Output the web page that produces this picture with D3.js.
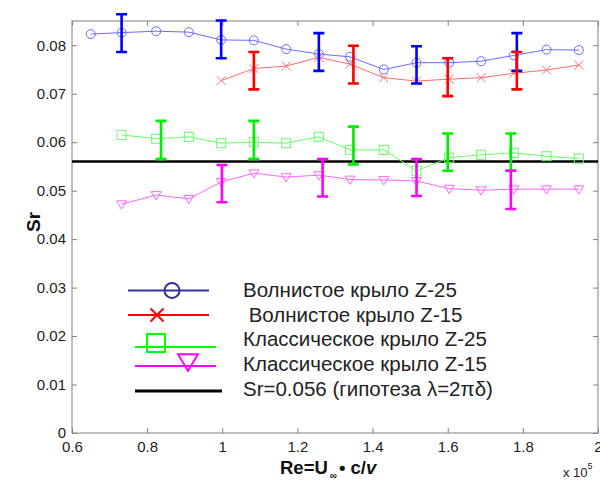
<!DOCTYPE html>
<html><head><meta charset="utf-8">
<script src="https://cdn.jsdelivr.net/npm/d3@7"></script>
<style>body{margin:0;background:#fff}svg{display:block}text{font-family:Arial,"Liberation Sans",sans-serif}</style>
</head><body><svg id="c" width="600" height="480"></svg>
<script>
// ---- data ----
const xTicks = [0.6, 0.8, 1.0, 1.2, 1.4, 1.6, 1.8, 2.0];
const xTickLabels = ["0.6","0.8","1","1.2","1.4","1.6","1.8","2"];
const yTicks = [0, 0.01, 0.02, 0.03, 0.04, 0.05, 0.06, 0.07, 0.08];
const yTickLabels = ["0","0.01","0.02","0.03","0.04","0.05","0.06","0.07","0.08"];

const blueX = [0.65, 0.732, 0.824, 0.911, 0.997, 1.084, 1.17, 1.257, 1.34, 1.43, 1.517, 1.604, 1.689, 1.776, 1.863, 1.949];
const blueY = [0.0823, 0.0826, 0.0829, 0.0827, 0.0811, 0.0810, 0.0792, 0.0782, 0.0776, 0.0750, 0.0764, 0.0764, 0.0767, 0.0779, 0.0791, 0.0790];
const blueErrX = [0.732, 0.997, 1.257, 1.517, 1.784];
const blueErrLow = [0.0786, 0.0773, 0.0747, 0.0721, 0.0747];
const blueErrHigh = [0.0864, 0.0851, 0.0825, 0.0798, 0.0825];

const redX = [0.997, 1.084, 1.17, 1.257, 1.34, 1.43, 1.517, 1.604, 1.689, 1.776, 1.863, 1.949];
const redY = [0.0727, 0.0752, 0.0757, 0.0775, 0.0761, 0.0733, 0.0726, 0.0730, 0.0733, 0.0742, 0.0749, 0.0759];
const redErrX = [1.084, 1.349, 1.600, 1.784];
const redErrLow = [0.0709, 0.0721, 0.0695, 0.0709];
const redErrHigh = [0.0786, 0.0799, 0.0773, 0.0786];

const greenX = [0.732, 0.824, 0.911, 0.997, 1.084, 1.17, 1.257, 1.34, 1.43, 1.517, 1.604, 1.689, 1.776, 1.863, 1.949];
const greenY = [0.0615, 0.0607, 0.0611, 0.0598, 0.0600, 0.0598, 0.0611, 0.0584, 0.0584, 0.0541, 0.0568, 0.0574, 0.0578, 0.0571, 0.0566];
const greenErrX = [0.837, 1.084, 1.349, 1.600, 1.768];
const greenErrLow = [0.0565, 0.0565, 0.0554, 0.0541, 0.0541];
const greenErrHigh = [0.0644, 0.0644, 0.0632, 0.0618, 0.0618];

const magX = [0.732, 0.824, 0.911, 0.997, 1.084, 1.17, 1.257, 1.34, 1.43, 1.517, 1.604, 1.689, 1.776, 1.863, 1.949];
const magY = [0.0472, 0.0491, 0.0483, 0.0518, 0.0536, 0.0528, 0.0532, 0.0523, 0.0522, 0.0520, 0.0504, 0.0501, 0.0503, 0.0503, 0.0503];
const magErrX = [0.999, 1.267, 1.517, 1.768];
const magErrLow = [0.0476, 0.0488, 0.0489, 0.0462];
const magErrHigh = [0.0553, 0.0565, 0.0565, 0.0541];

const hypothesis = 0.056;
const legendLabels = ["Волнистое крыло Z-25", " Волнистое крыло Z-15", "Классическое крыло Z-25", "Классическое крыло Z-15", "Sr=0.056 (гипотеза λ=2πδ)"];

// ---- layout ----
const L = 72, T = 21, R = 598, B = 433;
const svg = d3.select("#c");
const x = d3.scaleLinear().domain([0.6, 2.0]).range([L, R]);
const y = d3.scaleLinear().domain([0, 0.085]).range([B, T]);

// box
svg.append("rect").attr("x", L).attr("y", T).attr("width", R - L).attr("height", B - T)
  .attr("fill", "none").attr("stroke", "#808080").attr("stroke-width", 1);

// axes (ticks inward)
const axStyle = g => { g.select(".domain").remove(); g.selectAll("line").attr("stroke", "#808080");
  g.selectAll("text").attr("fill", "#222").style("font-size", "15px").style("font-family", "Arial, 'Liberation Sans', sans-serif"); };
svg.append("g").attr("transform", `translate(0,${B})`)
  .call(d3.axisBottom(x).tickValues(xTicks).tickSize(-5).tickPadding(8).tickFormat((d, i) => xTickLabels[i]))
  .call(axStyle);
svg.append("g").attr("transform", `translate(0,${T})`)
  .call(d3.axisTop(x).tickValues(xTicks).tickSize(-5).tickFormat(""))
  .call(axStyle);
svg.append("g").attr("transform", `translate(${L},0)`)
  .call(d3.axisLeft(y).tickValues(yTicks).tickSize(-5).tickPadding(6).tickFormat((d, i) => yTickLabels[i]))
  .call(axStyle);
svg.append("g").attr("transform", `translate(${R},0)`)
  .call(d3.axisRight(y).tickValues(yTicks).tickSize(-5).tickFormat(""))
  .call(axStyle);

// series
const line = d3.line().x(d => x(d[0])).y(d => y(d[1]));
function series(xs, ys, color, marker) {
  const pts = xs.map((v, i) => [v, ys[i]]);
  svg.append("path").attr("d", line(pts)).attr("fill", "none").attr("stroke", color).attr("stroke-width", 1);
  const g = svg.append("g");
  pts.forEach(p => drawMarker(g, x(p[0]), y(p[1]), marker, color, 4.5, 1));
}
function drawMarker(g, cx, cy, m, color, s, sw) {
  if (m === "o") g.append("circle").attr("cx", cx).attr("cy", cy).attr("r", s).attr("fill", "none").attr("stroke", color).attr("stroke-width", sw);
  else if (m === "x") g.append("path").attr("d", `M${cx - s},${cy - s}L${cx + s},${cy + s}M${cx - s},${cy + s}L${cx + s},${cy - s}`).attr("stroke", color).attr("stroke-width", sw).attr("fill", "none");
  else if (m === "s") g.append("rect").attr("x", cx - s).attr("y", cy - s).attr("width", 2 * s).attr("height", 2 * s).attr("fill", "none").attr("stroke", color).attr("stroke-width", sw);
  else if (m === "v") g.append("path").attr("d", `M${cx - s * 1.1},${cy - s * 0.75}L${cx + s * 1.1},${cy - s * 0.75}L${cx},${cy + s * 1.1}Z`).attr("fill", "none").attr("stroke", color).attr("stroke-width", sw);
}
function errs(xs, lo, hi, color) {
  const g = svg.append("g").attr("stroke", color).attr("stroke-width", 2.6).attr("fill", "none");
  xs.forEach((v, i) => {
    const cx = x(v), y1 = y(lo[i]), y2 = y(hi[i]);
    g.append("path").attr("d", `M${cx},${y1}L${cx},${y2}M${cx - 5.5},${y1}L${cx + 5.5},${y1}M${cx - 5.5},${y2}L${cx + 5.5},${y2}`);
  });
}

// hypothesis line
svg.append("line").attr("x1", x(0.6)).attr("x2", x(2.0)).attr("y1", y(hypothesis)).attr("y2", y(hypothesis))
  .attr("stroke", "#000").attr("stroke-width", 2.5);

series(blueX, blueY, "#6b6bff", "o");
series(redX, redY, "#ff6b6b", "x");
series(greenX, greenY, "#66ff66", "s");
series(magX, magY, "#ff66ff", "v");
errs(blueErrX, blueErrLow, blueErrHigh, "#0000ff");
errs(redErrX, redErrLow, redErrHigh, "#ff0000");
errs(greenErrX, greenErrLow, greenErrHigh, "#00ee00");
errs(magErrX, magErrLow, magErrHigh, "#ff00ff");

// legend
const lg = svg.append("g");
const legendItems = [
  {x1: 128, x2: 209, ly: 290.5, mx: 172, my: 290.5, m: "o", s: 7.5, c: "#333399", tx: 243, ty: 290},
  {x1: 128, x2: 209, ly: 315, mx: 157, my: 315, m: "x", s: 6.5, c: "#ff0000", tx: 243, ty: 314.5},
  {x1: 135, x2: 216, ly: 347, mx: 156, my: 343, m: "s", s: 9, c: "#00ff00", tx: 243, ty: 339},
  {x1: 135, x2: 216, ly: 366, mx: 188, my: 361, m: "v", s: 9, c: "#ff00ff", tx: 243, ty: 364},
  {x1: 135, x2: 222, ly: 391, mx: null, my: null, m: null, s: 0, c: "#000000", tx: 243, ty: 389}
];
legendItems.forEach((it, i) => {
  lg.append("line").attr("x1", it.x1).attr("x2", it.x2).attr("y1", it.ly).attr("y2", it.ly)
    .attr("stroke", it.c).attr("stroke-width", i === 4 ? 3 : 2);
  if (it.m) drawMarker(lg, it.mx, it.my, it.m, it.c, it.s, 2);
  lg.append("text").attr("x", it.tx).attr("y", it.ty).attr("dy", "0.35em")
    .attr("fill", "#222").style("font-size", "20.5px").style("white-space", "pre").text(legendLabels[i]);
});

// axis labels
svg.append("text").attr("transform", "translate(40,222) rotate(-90)").attr("text-anchor", "middle")
  .style("font-size", "19px").style("font-weight", "bold").attr("fill", "#111").text("Sr");
const xl = svg.append("text").attr("x", 280).attr("y", 474).style("font-size", "18.5px").style("font-weight", "bold").attr("fill", "#111");
xl.append("tspan").text("Re=U");
xl.append("tspan").attr("dy", 5).attr("dx", 2).style("font-size", "10px").text("∞");
xl.append("tspan").attr("dy", -5).attr("dx", 2).text("• c/");
xl.append("tspan").style("font-style", "italic").text("v");
const xe = svg.append("text").attr("x", 563).attr("y", 477).style("font-size", "13px").attr("fill", "#222");
xe.append("tspan").text("x 10");
xe.append("tspan").attr("dy", -8).style("font-size", "9px").text("5");
</script></body></html>
